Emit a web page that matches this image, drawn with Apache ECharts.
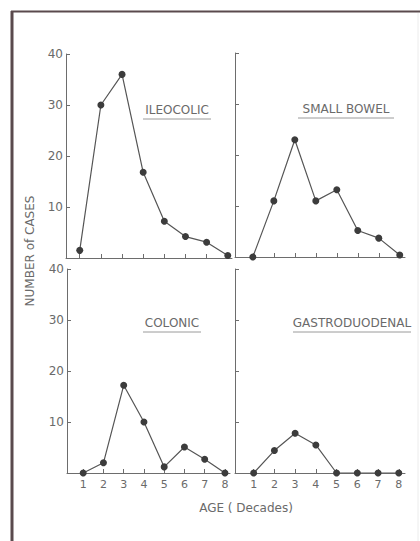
<!DOCTYPE html>
<html><head><meta charset="utf-8">
<script src="https://cdn.jsdelivr.net/npm/echarts@6/dist/echarts.min.js"></script>
<style>html,body{margin:0;padding:0;background:#fff;}#c{width:420px;height:541px;}</style>
</head><body><div id="c"></div>
<script>
const decades = [1, 2, 3, 4, 5, 6, 7, 8];
const decadeLabels = ['1', '2', '3', '4', '5', '6', '7', '8'];
const ileocolic = [1.5, 30, 36, 16.8, 7.2, 4.2, 3.1, 0.5];
const smallBowel = [0, 11, 23, 11, 13.2, 5.2, 3.7, 0.4];
const colonic = [0, 2, 17.2, 10, 1.2, 5.1, 2.7, 0];
const gastroduodenal = [0, 4.4, 7.8, 5.5, 0, 0, 0, 0];
const yTickValues = [0, 10, 20, 30, 40];
const panelTitles = ['ILEOCOLIC', 'SMALL BOWEL', 'COLONIC', 'GASTRODUODENAL'];

const FONT = 'DejaVu Sans';
const TXT = '#6a6a6a';
const AX = '#6d6d6d';

const panels = [
  {left: 66, top: 54, width: 166, height: 204, min: 0.35, max: 8.2, labels: true, xlabels: false, data: ileocolic, tx: 177, ty: 110, tw: 68},
  {left: 235, top: 53, width: 170, height: 204, min: 0.15, max: 8.25, labels: false, xlabels: false, data: smallBowel, tx: 346, ty: 109, tw: 96},
  {left: 67, top: 269, width: 163, height: 204, min: 0.2, max: 8.25, labels: true, xlabels: true, data: colonic, tx: 172, ty: 323, tw: 58},
  {left: 235, top: 269, width: 170, height: 204, min: 0.1, max: 8.3, labels: false, xlabels: true, data: gastroduodenal, tx: 352, ty: 323, tw: 118}
];

const chart = echarts.init(document.getElementById('c'), null, {renderer: 'svg'});

const grid = panels.map(p => ({left: p.left, top: p.top, width: p.width, height: p.height}));
const xAxis = panels.map((p, i) => ({
  type: 'value', gridIndex: i, min: p.min, max: p.max,
  axisLine: {show: true, lineStyle: {color: AX, width: 1}},
  axisTick: {show: true, inside: true, length: 4, customValues: decades, lineStyle: {color: AX}},
  axisLabel: {show: p.xlabels, customValues: decades, formatter: v => decadeLabels[decades.indexOf(v)] || '', color: TXT, fontFamily: FONT, fontSize: 11, margin: 6},
  splitLine: {show: false}
}));
const yAxis = panels.map((p, i) => ({
  type: 'value', gridIndex: i, min: 0, max: 40, interval: 10,
  axisLine: {show: true, lineStyle: {color: AX, width: 1}},
  axisTick: {show: true, inside: true, length: 4, customValues: yTickValues.slice(1), lineStyle: {color: AX}},
  axisLabel: {show: p.labels, formatter: v => v === 0 ? '' : String(v), color: TXT, fontFamily: FONT, fontSize: 12, margin: 3},
  splitLine: {show: false}
}));
const series = panels.map((p, i) => ({
  type: 'line', xAxisIndex: i, yAxisIndex: i,
  data: decades.map((d, k) => [d, p.data[k]]),
  symbol: 'circle', symbolSize: 7,
  lineStyle: {color: '#555', width: 1.2},
  itemStyle: {color: '#3c3c3c'},
  animation: false
}));

const graphic = [
  {type: 'line', shape: {x1: 11, y1: 11.5, x2: 420, y2: 11.5}, style: {stroke: '#5a4a4d', lineWidth: 2}},
  {type: 'line', shape: {x1: 12, y1: 11, x2: 12, y2: 541}, style: {stroke: '#5a4a4d', lineWidth: 3}},
  {type: 'line', shape: {x1: 418, y1: 13, x2: 418, y2: 541}, style: {stroke: '#ececec', lineWidth: 1}}
];
panels.forEach((p, i) => {
  graphic.push({type: 'text', x: p.tx, y: p.ty, style: {text: panelTitles[i], fill: TXT, font: '12px "' + FONT + '"', textAlign: 'center', textVerticalAlign: 'middle'}});
  graphic.push({type: 'line', shape: {x1: p.tx - p.tw / 2, y1: p.ty + 9, x2: p.tx + p.tw / 2, y2: p.ty + 9}, style: {stroke: '#9a9a9a', lineWidth: 1}});
});
graphic.push({type: 'text', x: 246, y: 508, style: {text: 'AGE ( Decades)', fill: TXT, font: '12px "' + FONT + '"', textAlign: 'center', textVerticalAlign: 'middle'}});
graphic.push({type: 'text', x: 30, y: 251, rotation: Math.PI / 2, style: {text: 'NUMBER of CASES', fill: TXT, font: '12px "' + FONT + '"', textAlign: 'center', textVerticalAlign: 'middle'}});

chart.setOption({animation: false, backgroundColor: '#fff', grid, xAxis, yAxis, series, graphic});
</script>
</body></html>
